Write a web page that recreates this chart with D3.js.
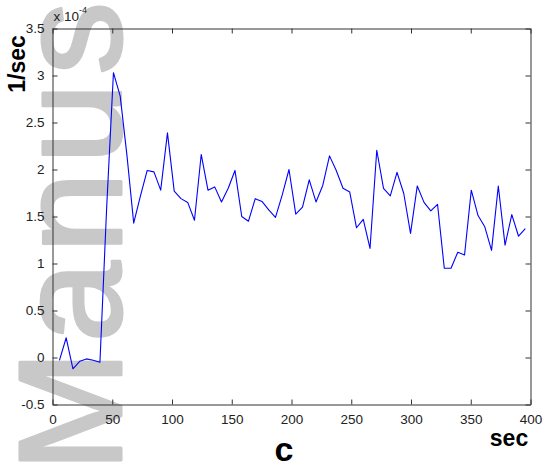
<!DOCTYPE html>
<html><head><meta charset="utf-8">
<script src="https://cdn.jsdelivr.net/npm/d3@7"></script>
<style>body{margin:0;background:#fff}svg{display:block}</style>
</head><body>
<script>
// time in seconds
const times = [5.8,11.45,17.1,22.75,28.4,34.05,39.7,45.35,51.0,56.65,62.3,67.95,73.6,79.25,84.9,90.55,96.2,101.85,107.5,113.15,
118.8,124.45,130.1,135.75,141.4,147.05,152.7,158.35,164.0,169.65,175.3,180.95,186.6,192.25,197.9,203.55,209.2,214.85,220.5,226.15,
231.8,237.45,243.1,248.75,254.4,260.05,265.7,271.35,277.0,282.65,288.3,293.95,299.6,305.25,310.9,316.55,322.2,327.85,333.5,339.15,
344.8,350.45,356.1,361.75,367.4,373.05,378.7,384.35,390.0,395.65];
// rate in units of 1e-4 1/sec
const rates = [-0.03,0.21,-0.12,-0.04,-0.015,-0.03,-0.05,1.6,3.03,2.78,2.15,1.43,1.72,1.99,1.975,1.78,2.39,1.77,1.69,1.65,
1.46,2.16,1.78,1.815,1.655,1.80,1.99,1.50,1.45,1.69,1.66,1.57,1.49,1.73,2.00,1.525,1.60,1.89,1.655,1.83,
2.145,1.99,1.80,1.76,1.38,1.47,1.16,2.205,1.80,1.72,1.97,1.745,1.32,1.825,1.65,1.56,1.63,0.95,0.95,1.12,
1.09,1.78,1.51,1.39,1.14,1.825,1.195,1.52,1.29,1.37];
const xTicks = [0,50,100,150,200,250,300,350,400];
const yTicks = [-0.5,0,0.5,1,1.5,2,2.5,3,3.5];
const yTickLabels = ["-0.5","0","0.5","1","1.5","2","2.5","3","3.5"];

(function(){
const W = 544, H = 468;
const L = 52.5, R = 530.5, T = 28.5, B = 404.5;
const svg = d3.select("body").append("svg").attr("width", W).attr("height", H);

// watermark (visible part)
svg.append("text")
  .attr("transform", "translate(121,472) rotate(-90)")
  .attr("font-family", "Liberation Sans, Arial, sans-serif")
  .attr("font-size", 146)
  .attr("letter-spacing", 8)
  .attr("fill", "#c8c8c8")
  .attr("stroke", "#c8c8c8")
  .attr("stroke-width", 3)
  .attr("stroke-linejoin", "round")
  .text("Manus");

const x = d3.scaleLinear().domain([0, 400]).range([L, R]);
const y = d3.scaleLinear().domain([-0.5, 3.5]).range([B, T]);

const font = "Liberation Sans, Arial, sans-serif";
const axColor = "#333";

// line
svg.append("path")
  .datum(times.map((t, i) => [t, rates[i]]))
  .attr("fill", "none")
  .attr("stroke", "#0000ff")
  .attr("stroke-width", 1.1)
  .attr("stroke-linejoin", "round")
  .attr("d", d3.line().x(d => x(d[0])).y(d => y(d[1])));

// axes (ticks inward)
const gBottom = svg.append("g").attr("transform", `translate(0,${B})`)
  .call(d3.axisBottom(x).tickValues(xTicks).tickSizeInner(-5).tickSizeOuter(0).tickPadding(10));
const gTop = svg.append("g").attr("transform", `translate(0,${T})`)
  .call(d3.axisTop(x).tickValues(xTicks).tickSizeInner(-5).tickSizeOuter(0).tickFormat(""));
const gLeft = svg.append("g").attr("transform", `translate(${L},0)`)
  .call(d3.axisLeft(y).tickValues(yTicks).tickSizeInner(-5).tickSizeOuter(0).tickPadding(8)
    .tickFormat((d, i) => yTickLabels[i]));
const gRight = svg.append("g").attr("transform", `translate(${R},0)`)
  .call(d3.axisRight(y).tickValues(yTicks).tickSizeInner(-5).tickSizeOuter(0).tickFormat(""));

[gBottom, gTop, gLeft, gRight].forEach(g => {
  g.selectAll(".domain").attr("stroke", axColor).attr("stroke-width", 1);
  g.selectAll(".tick line").attr("stroke", axColor);
  g.selectAll("text").attr("font-family", font).attr("font-size", 13.5).attr("fill", "#222");
});

// exponent label
const ex = svg.append("text").attr("x", L + 1).attr("y", 21)
  .attr("font-family", font).attr("font-size", 13.5).attr("fill", "#222");
ex.append("tspan").text("x 10");
ex.append("tspan").attr("font-size", 9).attr("dy", -8).text("-4");

// y label
svg.append("text")
  .attr("transform", "translate(25,64) rotate(-90)")
  .attr("text-anchor", "middle")
  .attr("font-family", font).attr("font-weight", "bold").attr("font-size", 23)
  .attr("fill", "#000")
  .text("1/sec");

// x label
svg.append("text").attr("x", 509).attr("y", 446)
  .attr("text-anchor", "middle")
  .attr("font-family", font).attr("font-weight", "bold").attr("font-size", 23)
  .attr("fill", "#000").text("sec");

// panel label
svg.append("text").attr("x", 284).attr("y", 461)
  .attr("text-anchor", "middle")
  .attr("font-family", font).attr("font-weight", "bold").attr("font-size", 34)
  .attr("fill", "#000").text("c");
})();
</script>
</body></html>
